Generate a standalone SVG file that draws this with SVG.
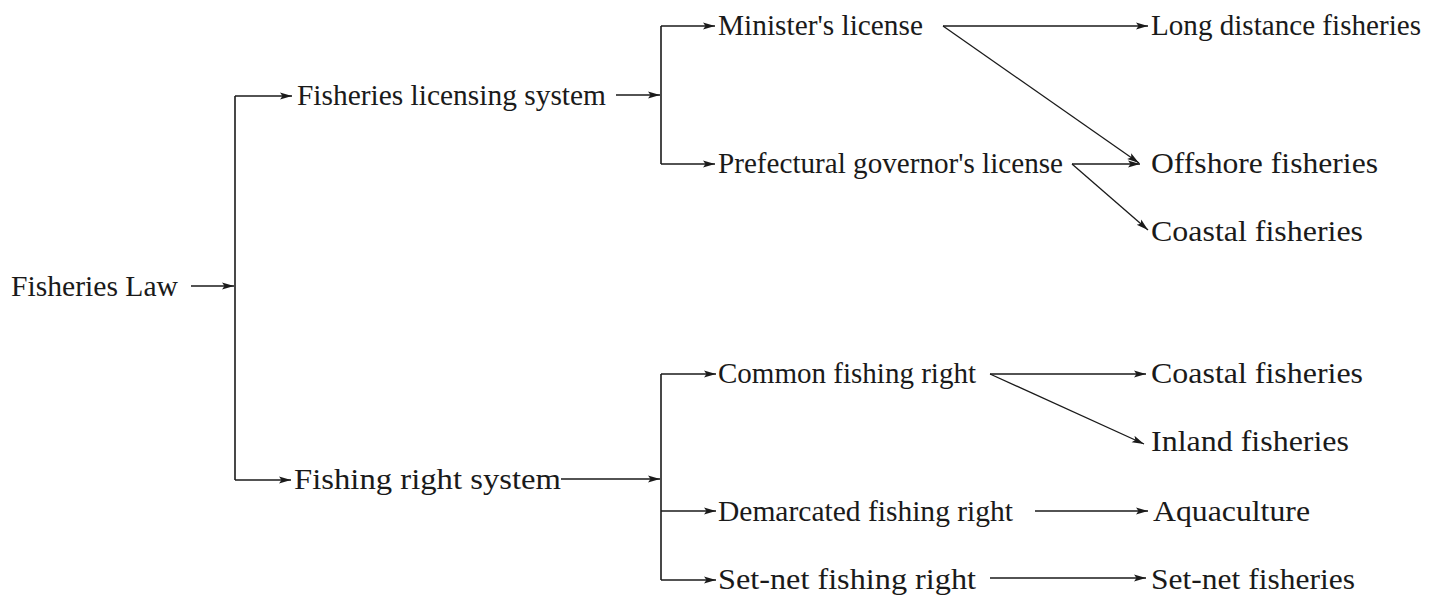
<svg xmlns="http://www.w3.org/2000/svg" width="1442" height="599" viewBox="0 0 1442 599">
<style>
  text { font-family: "Liberation Serif", "Times New Roman", serif; font-size: 29px; fill: #1a1a1a; }
  .c { fill: none; stroke: #1a1a1a; stroke-width: 1.3; }
  .v { fill: none; stroke: #1a1a1a; stroke-width: 1.6; }
  .a { marker-end: url(#arr); }
</style>
<defs>
  <marker id="arr" markerUnits="userSpaceOnUse" markerWidth="13" markerHeight="9" refX="12" refY="4.5" orient="auto">
    <path d="M0,1 L12,4.5 L0,8 L2.5,4.5 Z" fill="#1a1a1a"/>
  </marker>
</defs>
<g id="connectors">
  <path class="c a" d="M191 286 H234"/>
  <path class="v" d="M235 96 V480"/>
  <path class="c a" d="M235 96 H292"/>
  <path class="c a" d="M235 480 H291"/>
  <path class="c a" d="M616 95 H660"/>
  <path class="v" d="M661 26 V164"/>
  <path class="c a" d="M661 26 H715"/>
  <path class="c a" d="M661 164 H715"/>
  <path class="c a" d="M943 26 H1148"/>
  <path class="c a" d="M943 26 L1139 163"/>
  <path class="c a" d="M1072 164 H1140"/>
  <path class="c a" d="M1072 164 L1148 230"/>
  <path class="c a" d="M561 479 H660"/>
  <path class="v" d="M661 374 V580"/>
  <path class="c a" d="M661 374 H716"/>
  <path class="c a" d="M661 511 H716"/>
  <path class="c a" d="M661 580 H716"/>
  <path class="c a" d="M990 374 H1146"/>
  <path class="c a" d="M990 374 L1144 444"/>
  <path class="c a" d="M1035 511 H1148"/>
  <path class="c a" d="M990 578 H1146"/>
</g>
<g id="n-law"><text x="11" y="296" textLength="167" lengthAdjust="spacingAndGlyphs">Fisheries Law</text></g>
<g id="n-licensing"><text x="297" y="105" textLength="309" lengthAdjust="spacingAndGlyphs">Fisheries licensing system</text></g>
<g id="n-minister"><text x="718" y="35" textLength="205" lengthAdjust="spacingAndGlyphs">Minister's license</text></g>
<g id="n-prefectural"><text x="718" y="173" textLength="345" lengthAdjust="spacingAndGlyphs">Prefectural governor's license</text></g>
<g id="n-longdistance"><text x="1151" y="35" textLength="270" lengthAdjust="spacingAndGlyphs">Long distance fisheries</text></g>
<g id="n-offshore"><text x="1151" y="173" textLength="227" lengthAdjust="spacingAndGlyphs">Offshore fisheries</text></g>
<g id="n-coastal1"><text x="1151" y="241" textLength="212" lengthAdjust="spacingAndGlyphs">Coastal fisheries</text></g>
<g id="n-fishingright"><text x="294" y="489" textLength="267" lengthAdjust="spacingAndGlyphs">Fishing right system</text></g>
<g id="n-common"><text x="718" y="383" textLength="258" lengthAdjust="spacingAndGlyphs">Common fishing right</text></g>
<g id="n-coastal2"><text x="1151" y="383" textLength="212" lengthAdjust="spacingAndGlyphs">Coastal fisheries</text></g>
<g id="n-inland"><text x="1151" y="451" textLength="198" lengthAdjust="spacingAndGlyphs">Inland fisheries</text></g>
<g id="n-demarcated"><text x="718" y="521" textLength="295" lengthAdjust="spacingAndGlyphs">Demarcated fishing right</text></g>
<g id="n-aquaculture"><text x="1153" y="521" textLength="157" lengthAdjust="spacingAndGlyphs">Aquaculture</text></g>
<g id="n-setnet"><text x="718" y="589" textLength="258" lengthAdjust="spacingAndGlyphs">Set-net fishing right</text></g>
<g id="n-setnetfish"><text x="1151" y="589" textLength="204" lengthAdjust="spacingAndGlyphs">Set-net fisheries</text></g>
</svg>
